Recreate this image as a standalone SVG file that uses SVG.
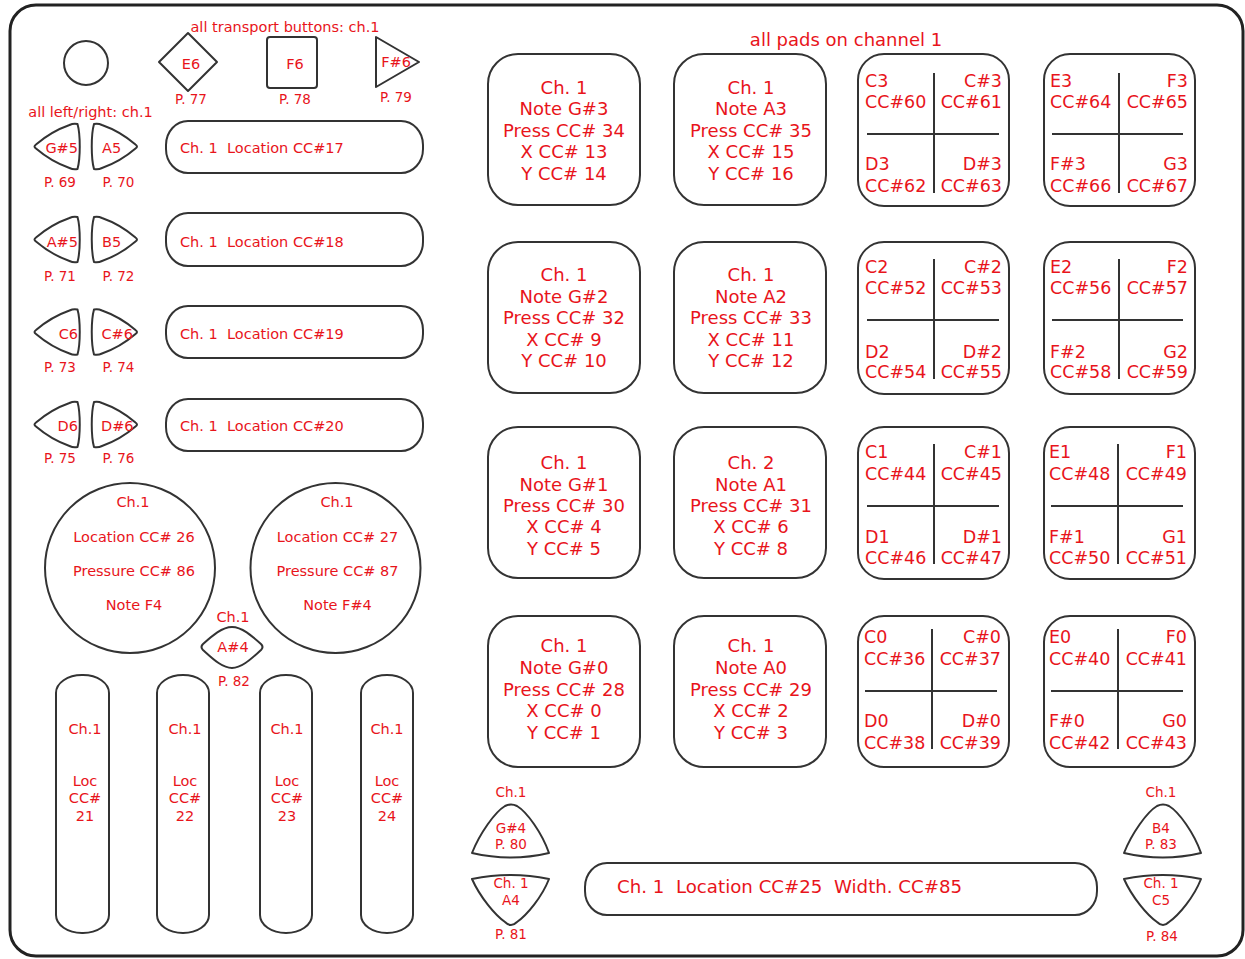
<svg xmlns="http://www.w3.org/2000/svg" xmlns:xlink="http://www.w3.org/1999/xlink" width="1245" height="959" viewBox="0 0 1245 959">
<style>
.sh{fill:#fff;stroke:#333;stroke-width:2;stroke-linejoin:round}
.ln{stroke:#333;stroke-width:2;fill:none}
text{font-family:"DejaVu Sans","Liberation Sans",sans-serif;fill:#e8141b}
.s{font-size:14.5px}
.p{font-size:13.5px}
.m{text-anchor:middle}
.e{text-anchor:end}
.pd{font-size:18px;text-anchor:middle}
.q{font-size:17.5px}
.big{font-size:18.2px}
</style>
<defs>
<path id="pick" d="M 21,-22.5 C 24,-12 24,12 21,22.5 C 19,23 16,23 13,21.5 C 3,18 -10,11 -20.5,2 C -22.5,0.5 -22.5,-0.5 -20.5,-2 C -10,-11 3,-18 13,-21.5 C 16,-23 19,-23 21,-22.5 Z"/>
<path id="up" d="M 472,853 C 480,833 495,812 505,806 C 509,804 513,804 517,806 C 527,812 542,833 549,853 Q 511,862 472,853 Z"/>
<path id="down" d="M 472,879 Q 511,871 549,879 C 542,897 527,915 517,922 C 513,926 509,926 505,922 C 495,915 480,897 472,879 Z"/>
</defs>
<rect x="0" y="0" width="1245" height="959" fill="#fff"/>
<rect id="frame" x="10" y="5" width="1233" height="951" rx="26" fill="#fff" stroke="#222" stroke-width="3"/>
<g id="connectors"/>

<g id="top-circle"><circle class="sh" cx="86" cy="63" r="22"/></g>
<text class="s m" x="285" y="32">all transport buttons: ch.1</text>
<g id="btn-e6"><path class="sh" d="M 188,33 L 217,62 L 188,91 L 159,62 Z"/><text class="s m" x="191" y="69">E6</text><text class="p m" x="191" y="104">P. 77</text></g>
<g id="btn-f6"><rect class="sh" x="267" y="37" width="50" height="51" rx="3"/><text class="s m" x="295" y="69">F6</text><text class="p m" x="295" y="104">P. 78</text></g>
<g id="btn-fs6"><path class="sh" d="M 376,37 L 419,62 L 376,87 Z"/><text class="s m" x="396" y="67">F#6</text><text class="p m" x="396" y="102">P. 79</text></g>

<text class="s m" x="90.5" y="117">all left/right: ch.1</text>

<g id="lr-row1">
<use href="#pick" class="sh" transform="translate(56.5,146.5)"/>
<use href="#pick" class="sh" transform="translate(115,146.5) scale(-1,1)"/>
<text class="s e" x="78" y="153">G#5</text><text class="s" x="102" y="153">A5</text>
<text class="p m" x="60" y="187">P. 69</text><text class="p m" x="118.5" y="187">P. 70</text>
</g>
<g id="strip-17"><rect class="sh" x="166" y="121" width="257" height="52" rx="22" ry="24"/><text class="s" x="180" y="153">Ch. 1&#160; Location CC#17</text></g>

<g id="lr-row2">
<use href="#pick" class="sh" transform="translate(56.5,239.5)"/>
<use href="#pick" class="sh" transform="translate(115,239.5) scale(-1,1)"/>
<text class="s e" x="78" y="247">A#5</text><text class="s" x="102" y="247">B5</text>
<text class="p m" x="60" y="281">P. 71</text><text class="p m" x="118.5" y="281">P. 72</text>
</g>
<g id="strip-18"><rect class="sh" x="166" y="213" width="257" height="53" rx="22" ry="24"/><text class="s" x="180" y="247">Ch. 1&#160; Location CC#18</text></g>

<g id="lr-row3">
<use href="#pick" class="sh" transform="translate(56.5,332)"/>
<use href="#pick" class="sh" transform="translate(115,332) scale(-1,1)"/>
<text class="s e" x="78" y="339">C6</text><text class="s" x="101.5" y="339">C#6</text>
<text class="p m" x="60" y="372">P. 73</text><text class="p m" x="118.5" y="372">P. 74</text>
</g>
<g id="strip-19"><rect class="sh" x="166" y="306" width="257" height="52" rx="22" ry="24"/><text class="s" x="180" y="339">Ch. 1&#160; Location CC#19</text></g>

<g id="lr-row4">
<use href="#pick" class="sh" transform="translate(56.5,424.5)"/>
<use href="#pick" class="sh" transform="translate(115,424.5) scale(-1,1)"/>
<text class="s e" x="78" y="431">D6</text><text class="s" x="101" y="431">D#6</text>
<text class="p m" x="60" y="463">P. 75</text><text class="p m" x="118.5" y="463">P. 76</text>
</g>
<g id="strip-20"><rect class="sh" x="166" y="399" width="257" height="52" rx="22" ry="24"/><text class="s" x="180" y="431">Ch. 1&#160; Location CC#20</text></g>

<g id="circle-left"><circle class="sh" cx="130" cy="568" r="85"/>
<text class="s m" x="133" y="507">Ch.1</text><text class="s m" x="134" y="542">Location CC# 26</text><text class="s m" x="134" y="576">Pressure CC# 86</text><text class="s m" x="134" y="610">Note F4</text></g>
<g id="circle-right"><circle class="sh" cx="335.5" cy="568" r="85"/>
<text class="s m" x="337" y="507">Ch.1</text><text class="s m" x="337.5" y="542">Location CC# 27</text><text class="s m" x="337.5" y="576">Pressure CC# 87</text><text class="s m" x="337.5" y="610">Note F#4</text></g>

<g id="btn-as4"><path class="sh" d="M 203,644 C 212,636 222,627 232,627 C 242,627 252,636 261,644 C 263,646 263,648 261,650 C 252,658 242,668 232,668 C 222,668 212,658 203,650 C 201,648 201,646 203,644 Z"/>
<text class="s m" x="233" y="622">Ch.1</text><text class="s m" x="233" y="652">A#4</text><text class="p m" x="234" y="686">P. 82</text></g>

<g id="slider-21"><rect class="sh" x="56" y="675" width="53" height="258" rx="26" ry="18"/><text class="s m" x="85" y="734">Ch.1</text><text class="s m" x="85" y="786">Loc</text><text class="s m" x="85" y="803">CC#</text><text class="s m" x="85" y="821">21</text></g>
<g id="slider-22"><rect class="sh" x="157" y="675" width="52" height="258" rx="26" ry="18"/><text class="s m" x="185" y="734">Ch.1</text><text class="s m" x="185" y="786">Loc</text><text class="s m" x="185" y="803">CC#</text><text class="s m" x="185" y="821">22</text></g>
<g id="slider-23"><rect class="sh" x="260" y="675" width="52" height="258" rx="26" ry="18"/><text class="s m" x="287" y="734">Ch.1</text><text class="s m" x="287" y="786">Loc</text><text class="s m" x="287" y="803">CC#</text><text class="s m" x="287" y="821">23</text></g>
<g id="slider-24"><rect class="sh" x="361" y="675" width="52" height="258" rx="26" ry="18"/><text class="s m" x="387" y="734">Ch.1</text><text class="s m" x="387" y="786">Loc</text><text class="s m" x="387" y="803">CC#</text><text class="s m" x="387" y="821">24</text></g>

<text class="m" x="846" y="46" style="font-size:18px">all pads on channel 1</text>

<!-- main pads -->
<g id="pad-gs3"><rect class="sh" x="488" y="54" width="152" height="151" rx="30"/>
<text class="pd"><tspan x="564" y="94">Ch. 1</tspan><tspan x="564" y="115">Note G#3</tspan><tspan x="564" y="137">Press CC# 34</tspan><tspan x="564" y="158">X CC# 13</tspan><tspan x="564" y="180">Y CC# 14</tspan></text></g>
<g id="pad-a3"><rect class="sh" x="674" y="54" width="152" height="151" rx="30"/>
<text class="pd"><tspan x="751" y="94">Ch. 1</tspan><tspan x="751" y="115">Note A3</tspan><tspan x="751" y="137">Press CC# 35</tspan><tspan x="751" y="158">X CC# 15</tspan><tspan x="751" y="180">Y CC# 16</tspan></text></g>

<g id="pad-gs2"><rect class="sh" x="488" y="242" width="152" height="151" rx="30"/>
<text class="pd"><tspan x="564" y="281">Ch. 1</tspan><tspan x="564" y="303">Note G#2</tspan><tspan x="564" y="324">Press CC# 32</tspan><tspan x="564" y="346">X CC# 9</tspan><tspan x="564" y="367">Y CC# 10</tspan></text></g>
<g id="pad-a2"><rect class="sh" x="674" y="242" width="152" height="151" rx="30"/>
<text class="pd"><tspan x="751" y="281">Ch. 1</tspan><tspan x="751" y="303">Note A2</tspan><tspan x="751" y="324">Press CC# 33</tspan><tspan x="751" y="346">X CC# 11</tspan><tspan x="751" y="367">Y CC# 12</tspan></text></g>

<g id="pad-gs1"><rect class="sh" x="488" y="427" width="152" height="151" rx="30"/>
<text class="pd"><tspan x="564" y="469">Ch. 1</tspan><tspan x="564" y="491">Note G#1</tspan><tspan x="564" y="512">Press CC# 30</tspan><tspan x="564" y="533">X CC# 4</tspan><tspan x="564" y="555">Y CC# 5</tspan></text></g>
<g id="pad-a1"><rect class="sh" x="674" y="427" width="152" height="151" rx="30"/>
<text class="pd"><tspan x="751" y="469">Ch. 2</tspan><tspan x="751" y="491">Note A1</tspan><tspan x="751" y="512">Press CC# 31</tspan><tspan x="751" y="533">X CC# 6</tspan><tspan x="751" y="555">Y CC# 8</tspan></text></g>

<g id="pad-gs0"><rect class="sh" x="488" y="616" width="152" height="151" rx="30"/>
<text class="pd"><tspan x="564" y="652">Ch. 1</tspan><tspan x="564" y="674">Note G#0</tspan><tspan x="564" y="696">Press CC# 28</tspan><tspan x="564" y="717">X CC# 0</tspan><tspan x="564" y="739">Y CC# 1</tspan></text></g>
<g id="pad-a0"><rect class="sh" x="674" y="616" width="152" height="151" rx="30"/>
<text class="pd"><tspan x="751" y="652">Ch. 1</tspan><tspan x="751" y="674">Note A0</tspan><tspan x="751" y="696">Press CC# 29</tspan><tspan x="751" y="717">X CC# 2</tspan><tspan x="751" y="739">Y CC# 3</tspan></text></g>

<!-- quad pads -->
<g id="quad-c3"><rect class="sh" x="858" y="54" width="151" height="152" rx="26"/>
<line class="ln" x1="934" y1="73" x2="934" y2="193"/><line class="ln" x1="867" y1="134" x2="999" y2="134"/>
<text class="q"><tspan x="865" y="87">C3</tspan><tspan x="865" y="108">CC#60</tspan><tspan x="865" y="170">D3</tspan><tspan x="865" y="192">CC#62</tspan></text>
<text class="q e"><tspan x="1002" y="87">C#3</tspan><tspan x="1002" y="108">CC#61</tspan><tspan x="1002" y="170">D#3</tspan><tspan x="1002" y="192">CC#63</tspan></text></g>
<g id="quad-e3"><rect class="sh" x="1044" y="54" width="151" height="152" rx="26"/>
<line class="ln" x1="1119" y1="73" x2="1119" y2="193"/><line class="ln" x1="1052" y1="134" x2="1183" y2="134"/>
<text class="q"><tspan x="1050" y="87">E3</tspan><tspan x="1050" y="108">CC#64</tspan><tspan x="1050" y="170">F#3</tspan><tspan x="1050" y="192">CC#66</tspan></text>
<text class="q e"><tspan x="1188" y="87">F3</tspan><tspan x="1188" y="108">CC#65</tspan><tspan x="1188" y="170">G3</tspan><tspan x="1188" y="192">CC#67</tspan></text></g>

<g id="quad-c2"><rect class="sh" x="858" y="242" width="151" height="152" rx="26"/>
<line class="ln" x1="934" y1="259" x2="934" y2="379"/><line class="ln" x1="867" y1="320" x2="999" y2="320"/>
<text class="q"><tspan x="865" y="273">C2</tspan><tspan x="865" y="294">CC#52</tspan><tspan x="865" y="358">D2</tspan><tspan x="865" y="378">CC#54</tspan></text>
<text class="q e"><tspan x="1002" y="273">C#2</tspan><tspan x="1002" y="294">CC#53</tspan><tspan x="1002" y="358">D#2</tspan><tspan x="1002" y="378">CC#55</tspan></text></g>
<g id="quad-e2"><rect class="sh" x="1044" y="242" width="151" height="152" rx="26"/>
<line class="ln" x1="1119" y1="259" x2="1119" y2="379"/><line class="ln" x1="1052" y1="320" x2="1183" y2="320"/>
<text class="q"><tspan x="1050" y="273">E2</tspan><tspan x="1050" y="294">CC#56</tspan><tspan x="1050" y="358">F#2</tspan><tspan x="1050" y="378">CC#58</tspan></text>
<text class="q e"><tspan x="1188" y="273">F2</tspan><tspan x="1188" y="294">CC#57</tspan><tspan x="1188" y="358">G2</tspan><tspan x="1188" y="378">CC#59</tspan></text></g>

<g id="quad-c1"><rect class="sh" x="858" y="427" width="151" height="152" rx="26"/>
<line class="ln" x1="934" y1="444" x2="934" y2="564"/><line class="ln" x1="867" y1="506" x2="999" y2="506"/>
<text class="q"><tspan x="865" y="458">C1</tspan><tspan x="865" y="480">CC#44</tspan><tspan x="865" y="543">D1</tspan><tspan x="865" y="564">CC#46</tspan></text>
<text class="q e"><tspan x="1002" y="458">C#1</tspan><tspan x="1002" y="480">CC#45</tspan><tspan x="1002" y="543">D#1</tspan><tspan x="1002" y="564">CC#47</tspan></text></g>
<g id="quad-e1"><rect class="sh" x="1044" y="427" width="151" height="152" rx="26"/>
<line class="ln" x1="1118" y1="444" x2="1118" y2="564"/><line class="ln" x1="1051" y1="506" x2="1183" y2="506"/>
<text class="q"><tspan x="1049" y="458">E1</tspan><tspan x="1049" y="480">CC#48</tspan><tspan x="1049" y="543">F#1</tspan><tspan x="1049" y="564">CC#50</tspan></text>
<text class="q e"><tspan x="1187" y="458">F1</tspan><tspan x="1187" y="480">CC#49</tspan><tspan x="1187" y="543">G1</tspan><tspan x="1187" y="564">CC#51</tspan></text></g>

<g id="quad-c0"><rect class="sh" x="858" y="616" width="151" height="151" rx="26"/>
<line class="ln" x1="932" y1="629" x2="932" y2="749"/><line class="ln" x1="865" y1="691" x2="997" y2="691"/>
<text class="q"><tspan x="864" y="643">C0</tspan><tspan x="864" y="665">CC#36</tspan><tspan x="864" y="727">D0</tspan><tspan x="864" y="749">CC#38</tspan></text>
<text class="q e"><tspan x="1001" y="643">C#0</tspan><tspan x="1001" y="665">CC#37</tspan><tspan x="1001" y="727">D#0</tspan><tspan x="1001" y="749">CC#39</tspan></text></g>
<g id="quad-e0"><rect class="sh" x="1044" y="616" width="151" height="151" rx="26"/>
<line class="ln" x1="1118" y1="629" x2="1118" y2="749"/><line class="ln" x1="1051" y1="691" x2="1183" y2="691"/>
<text class="q"><tspan x="1049" y="643">E0</tspan><tspan x="1049" y="665">CC#40</tspan><tspan x="1049" y="727">F#0</tspan><tspan x="1049" y="749">CC#42</tspan></text>
<text class="q e"><tspan x="1187" y="643">F0</tspan><tspan x="1187" y="665">CC#41</tspan><tspan x="1187" y="727">G0</tspan><tspan x="1187" y="749">CC#43</tspan></text></g>

<!-- bottom -->
<g id="btn-gs4"><use href="#up" class="sh"/><text class="p m" x="511" y="797">Ch.1</text><text class="p m" x="511" y="833">G#4</text><text class="p m" x="511" y="849">P. 80</text></g>
<g id="btn-a4"><use href="#down" class="sh"/><text class="p m" x="511" y="888">Ch. 1</text><text class="p m" x="511" y="905">A4</text><text class="p m" x="511" y="939">P. 81</text></g>
<g id="strip-25"><rect class="sh" x="585" y="863" width="512" height="52" rx="22" ry="24"/><text class="big" x="617" y="893">Ch. 1&#160; Location CC#25&#160; Width. CC#85</text></g>
<g id="btn-b4"><use href="#up" class="sh" transform="translate(652,0)"/><text class="p m" x="1161" y="797">Ch.1</text><text class="p m" x="1161" y="833">B4</text><text class="p m" x="1161" y="849">P. 83</text></g>
<g id="btn-c5"><use href="#down" class="sh" transform="translate(652,0)"/><text class="p m" x="1161" y="888">Ch. 1</text><text class="p m" x="1161" y="905">C5</text><text class="p m" x="1162" y="941">P. 84</text></g>
</svg>
